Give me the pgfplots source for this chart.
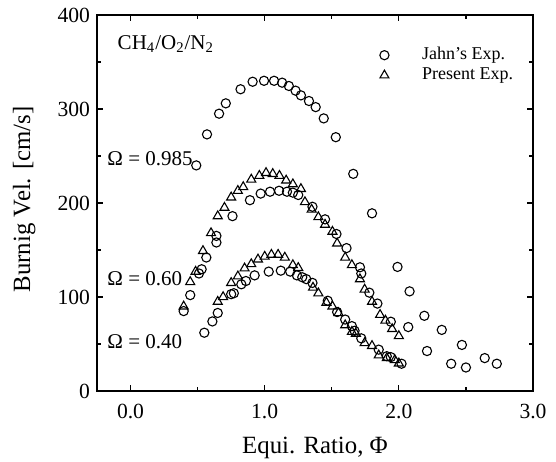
\documentclass[border=0pt]{standalone}
\usepackage{pgfplots}
\pgfplotsset{compat=1.18}
\usepackage{fontspec}
\setmainfont{Liberation Serif}

\begin{document}
\begin{tikzpicture}
\begin{axis}[scale only axis,width=218pt,height=188pt,
  xmin=-0.25,xmax=3.0,ymin=0,ymax=400,
  xtick={0,1,2,3},minor xtick={0.5,1.5,2.5},
  ytick={0,100,200,300,400},minor ytick={50,150,250,350},
  /pgf/number format/assume math mode=true,
  tick align=inside,major tick length=3pt,minor tick length=1.8pt,
  tick style={black,line width=0.6pt},axis line style={line width=0.8pt},
  ticklabel style={font=\fontsize{10.8}{12}\selectfont},
  xticklabel style={anchor=base,yshift=-13.8pt,
    /pgf/number format/.cd,fixed,fixed zerofill,precision=1},
  xlabel={Equi. Ratio, Φ},ylabel={Burnig Vel. [cm/s]},
  label style={font=\fontsize{12.4}{14}\selectfont},
  xlabel style={at={(axis description cs:0.5,0)},anchor=base,yshift=-31.5pt,inner sep=1pt},
  ylabel style={at={(axis description cs:-0.167,0.51)},anchor=center,inner sep=1pt},
  legend style={draw=none,fill=none,at={(0.634,0.936)},anchor=north west,
    font=\fontsize{9}{10}\selectfont,row sep=-1.5pt,
    /tikz/every odd column/.append style={column sep=14.5pt},
    legend cell align=left},
  every axis plot/.append style={only marks,black,line width=0.55pt,mark size=2.3pt}]
% Jahn's Exp. (circles)
\addplot[mark=o] coordinates {
(0.49,240)(0.57,273)(0.66,295)(0.71,306)(0.82,321)(0.91,329)(0.995,330)(1.07,330)
(1.13,328)(1.18,324.5)(1.23,319.5)(1.27,314.5)(1.33,308.5)(1.38,302)(1.44,290)
(1.53,270)(1.66,231)(1.80,189)(1.99,132)(2.08,106)(2.19,80)(2.32,65)(2.47,49)
(2.64,35)(2.73,29)
(0.396,85)(0.445,102)(0.51,125)(0.53,129.5)(0.565,142)(0.64,158)(0.64,165)(0.76,186)
(0.89,203)(0.97,210)(1.04,212)(1.107,213)(1.166,212)(1.21,211)(1.25,208.5)
(1.356,196)(1.45,182.6)(1.535,167)(1.61,152)(1.71,131.6)(1.72,125)(1.78,104.6)
(1.84,93)(1.94,73.7)(2.07,68)(2.21,42.5)(2.39,29)(2.50,25)
(0.55,62)(0.61,74)(0.65,83)(0.75,103)(0.77,104)(0.826,113.5)(0.86,117)(0.925,123)
(1.03,127)(1.12,128)(1.19,127)(1.24,123)(1.28,121)(1.31,119)(1.356,115)(1.47,96)
(1.54,84)(1.60,76)(1.65,69)(1.67,64)(1.72,56)(1.85,44)(1.91,37)(1.94,36)(2.02,29)};
\addlegendentry{Jahn's Exp.}
% Present Exp. (triangles)
\addplot[mark=triangle,mark size=2.6pt] coordinates {
(0.396,90)(0.445,116)(0.485,127)(0.54,149)(0.60,168)(0.65,186)(0.70,195)(0.75,206)
(0.80,213)(0.84,217)(0.90,225)(0.96,229)(1.01,232)(1.06,231)(1.11,229)(1.16,224)
(1.21,220)(1.27,215)(1.30,201)(1.35,193)(1.40,185)(1.45,177)(1.505,169.5)(1.54,157)
(1.60,142)(1.65,134)(1.71,119)(1.745,108)(1.80,95)(1.86,81)(1.90,75)(1.95,66)(2.00,58.5)
(0.65,95)(0.69,100)(0.75,115)(0.80,122)(0.85,130.5)(0.90,135)(0.95,140)(1.0,143)
(1.05,145)(1.10,145)(1.15,142)(1.21,134)(1.25,131)(1.36,110)(1.40,104)(1.46,94)
(1.505,90)(1.55,83)(1.60,70)(1.65,63)(1.68,61)(1.745,51)(1.80,48)(1.85,38)(1.91,35)
(1.97,33)(2.00,29.4)};
\addlegendentry{Present Exp.}
\node[anchor=west,font=\fontsize{10.5}{12}\selectfont] at (axis cs:-0.148,369) {CH\textsubscript{4}/O\textsubscript{2}/N\textsubscript{2}};
\node[anchor=west,font=\fontsize{10.5}{12}\selectfont] at (axis cs:-0.225,247) {Ω = 0.985};
\node[anchor=west,font=\fontsize{10.5}{12}\selectfont] at (axis cs:-0.225,119) {Ω = 0.60};
\node[anchor=west,font=\fontsize{10.5}{12}\selectfont] at (axis cs:-0.225,52) {Ω = 0.40};
\end{axis}
\pgfresetboundingbox
\path ([xshift=-48.5pt,yshift=-35.5pt]current axis.south west)
  rectangle ([xshift=11.5pt,yshift=7.5pt]current axis.north east);
\end{tikzpicture}
\end{document}
